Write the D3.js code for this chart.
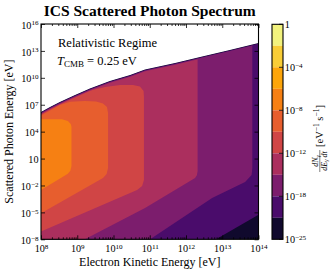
<!DOCTYPE html>
<meta charset="utf-8">
<style>
body { margin: 0; background: #fff; }
text { font-family: "Liberation Serif", "DejaVu Serif", serif; fill: #000; }
.axis line { stroke: #000; stroke-width: 0.8; }
.axis path { display: none; }
</style>
<script src="https://d3js.org/d3.v7.min.js"></script>
<body>
<script>
// everything below is in powers of ten: [log10 electron KE (eV), log10 photon energy (eV)]
// upper kinematic edge, white above
const kinematicEdge = [[8, 6.19], [8.25, 6.75], [8.52, 7.31], [8.94, 8.09], [9.35, 8.81], [9.9, 9.65],
  [10.46, 10.32], [10.87, 10.93], [11.7, 11.65], [12.39, 12.32], [13.21, 13.1], [14, 13.88]];

// filled regions  dN/dE dt >= 10^level
const fill25 = [[7, 17], [15, 17], [15, -10], [7, -10]];
const fill21 = [[7, 17], [15, 17], [15, -5.26], [14, -5.26], [12.83, -8], [12.83, -10], [7, -10]];
const fill18 = [[7, 17], [13.83, 17], [13.83, -0.05], [13.81, -0.83], [13.63, -1.61], [12.72, -3.4], [11.01, -8], [11.01, -10], [7, -10]];
const fill15 = [[7, 17], [12.32, 17], [12.32, -0.42], [12.3, -0.85], [12.25, -1.17], [10.87, -4.51], [9.21, -8], [9.21, -10], [7, -10]];
const fill12 = [[7, 17], [9.35, 17], [9.35, 8.6], [9.77, 8.98], [10.18, 9.2], [10.54, 9.2], [10.73, 9.03], [10.83, 8.53], [10.84, 7.86],
  [10.84, -1.39], [10.79, -2.06], [10.65, -2.5], [8, -7.13], [7, -7.13]];
const fill10 = [[7, 5.0], [8, 5.8], [8.25, 6.36], [8.52, 6.97], [8.8, 7.34], [9.21, 7.42], [9.52, 7.36], [9.71, 7.14], [9.82, 6.75], [9.85, 6.08],
  [9.85, -0.05], [9.81, -0.72], [9.71, -1.17], [8, -5.1], [7, -5.1]];
const fill8 = [[7, 5.38], [8.58, 5.38], [8.74, 5.19], [8.82, 4.85], [8.84, 4.55], [8.84, 0.17], [8.81, -0.35], [8.74, -0.7], [8, -2.5], [7, -2.5]];

// how far (decades) each region sits below the kinematic edge
const regionLevels = [-25, -21, -18, -15, -12, -10, -8];
const regionGaps = [0, 0.06, 0.12, 0.19, 0.28, 0.28, 0.28];
const regionPts = [fill25, fill21, fill18, fill15, fill12, fill10, fill8];

const levelExps = [0, -2, -4, -6, -8, -10, -12, -15, -18, -21, -25];
const cbTickExps = [0, -4, -8, -12, -18, -25];
const xTickExps = [8, 9, 10, 11, 12, 13, 14];
const yTickExps = [16, 13, 10, 7, 4, 1, -2, -5, -8];

const W = 335, H = 273;
const plot = {left: 41, right: 258.5, top: 24, bottom: 239.3};
const cbar = {left: 272, right: 283};

const svg = d3.select('body').append('svg').attr('width', W).attr('height', H);
const defs = svg.append('defs');

const x = d3.scaleLog().domain([1e8, 1e14]).range([plot.left, plot.right]);
const y = d3.scaleLog().domain([1e-8, 1e16]).range([plot.bottom, plot.top]);
const line = d3.line().x(p => x(10 ** p[0])).y(p => y(10 ** p[1]));

const lo = d3.min(levelExps), hi = d3.max(levelExps);
const bandColor = i => d3.interpolateInferno(((levelExps[i] + levelExps[i + 1]) / 2 - lo) / (hi - lo));

defs.append('clipPath').attr('id', 'plotclip')
  .append('rect')
    .attr('x', plot.left).attr('y', plot.top)
    .attr('width', plot.right - plot.left).attr('height', plot.bottom - plot.top);

const underEdge = gap => {
  const e = kinematicEdge.map(([a, b]) => [a, b - gap]);
  return [[7, e[0][1]], ...e, [15, e[e.length - 1][1]], [15, -10], [7, -10]];
};

const field = svg.append('g').attr('clip-path', 'url(#plotclip)');
regionLevels.forEach((lev, k) => {
  defs.append('clipPath').attr('id', 'edge' + k)
    .append('path').attr('d', line(underEdge(regionGaps[k])) + 'Z');
  field.append('g')
    .attr('clip-path', `url(#edge${k})`)
    .append('path')
      .attr('d', line(regionPts[k]) + 'Z')
      .attr('fill', bandColor(levelExps.indexOf(lev) - 1));
});

// tick label helper: 10^e with superscript
function powLabel(sel, e, fs) {
  sel.text('');
  if (e === 0) { sel.append('tspan').text('1'); return; }
  sel.append('tspan').text('10');
  if (e !== 1) {
    sel.append('tspan').attr('dy', '-0.45em').attr('font-size', fs * 0.7)
      .text(e < 0 ? '\u2212' + (-e) : e);
  }
}

const fs = 10.2;
const minor = d3.merge(d3.range(8, 14).map(k => d3.range(2, 10).map(m => m * 10 ** k)));

const xAxis = svg.append('g').attr('class', 'axis')
  .attr('transform', `translate(0,${plot.bottom})`)
  .call(d3.axisBottom(x).tickValues(xTickExps.map(e => 10 ** e)).tickSizeInner(-4).tickSizeOuter(0).tickPadding(5.5));
xAxis.selectAll('.tick text').attr('font-size', fs).each(function(d) { powLabel(d3.select(this), Math.round(Math.log10(d)), fs); });
svg.append('g').attr('class', 'axis')
  .attr('transform', `translate(0,${plot.bottom})`)
  .call(d3.axisBottom(x).tickValues(minor).tickSizeInner(-2).tickSizeOuter(0).tickFormat(''));
svg.append('g').attr('class', 'axis')
  .attr('transform', `translate(0,${plot.top})`)
  .call(d3.axisTop(x).tickValues(xTickExps.map(e => 10 ** e)).tickSizeInner(-4).tickSizeOuter(0).tickFormat(''));
svg.append('g').attr('class', 'axis')
  .attr('transform', `translate(0,${plot.top})`)
  .call(d3.axisTop(x).tickValues(minor).tickSizeInner(-2).tickSizeOuter(0).tickFormat(''));

const yAxis = svg.append('g').attr('class', 'axis')
  .attr('transform', `translate(${plot.left},0)`)
  .call(d3.axisLeft(y).tickValues(yTickExps.map(e => 10 ** e)).tickSizeInner(-4).tickSizeOuter(0).tickPadding(2.5));
yAxis.selectAll('.tick text').attr('font-size', fs).attr('dy', '0.4em')
  .each(function(d) { powLabel(d3.select(this), Math.round(Math.log10(d)), fs); });
svg.append('g').attr('class', 'axis')
  .attr('transform', `translate(${plot.right},0)`)
  .call(d3.axisRight(y).tickValues(yTickExps.map(e => 10 ** e)).tickSizeInner(-4).tickSizeOuter(0).tickFormat(''));

svg.append('rect')
  .attr('x', plot.left).attr('y', plot.top)
  .attr('width', plot.right - plot.left).attr('height', plot.bottom - plot.top)
  .attr('fill', 'none').attr('stroke', '#000').attr('stroke-width', 1.1);

// colorbar, bands evenly spaced by level index
const cb = d3.scalePoint().domain(levelExps).range([plot.top + 0.3, plot.bottom]);
const cbg = svg.append('g');
cbg.selectAll('rect.band')
  .data(d3.range(levelExps.length - 1))
  .join('rect')
    .attr('class', 'band')
    .attr('x', cbar.left).attr('width', cbar.right - cbar.left)
    .attr('y', i => cb(levelExps[i]))
    .attr('height', i => cb(levelExps[i + 1]) - cb(levelExps[i]))
    .attr('fill', i => bandColor(i));
cbg.selectAll('line.cbt')
  .data(cbTickExps)
  .join('line')
    .attr('class', 'cbt')
    .attr('x1', cbar.right).attr('x2', cbar.right - 4)
    .attr('y1', d => cb(d)).attr('y2', d => cb(d))
    .attr('stroke', '#000').attr('stroke-width', 0.8);
cbg.append('rect')
  .attr('x', cbar.left).attr('y', cb(levelExps[0]))
  .attr('width', cbar.right - cbar.left).attr('height', cb(lo) - cb(hi))
  .attr('fill', 'none').attr('stroke', '#000').attr('stroke-width', 1.1);
cbg.selectAll('text.cbl')
  .data(cbTickExps)
  .join('text')
    .attr('class', 'cbl')
    .attr('x', cbar.right + 1.8).attr('y', d => cb(d)).attr('dy', '0.4em')
    .attr('font-size', fs)
    .each(function(d) { powLabel(d3.select(this), d, fs); });

// colorbar label, rotated
const cl = svg.append('g').attr('transform', 'translate(323,135) rotate(-90)');
const fr = cl.append('g').attr('transform', 'translate(-26,0)');
const num = fr.append('text').attr('y', -4.8).attr('text-anchor', 'middle').attr('font-size', 8);
num.append('tspan').attr('font-style', 'italic').text('dN');
num.append('tspan').attr('font-style', 'italic').attr('font-size', 6).attr('dy', 1.5).text('\u03b3');
fr.append('line').attr('x1', -11).attr('x2', 11).attr('y1', -3.2).attr('y2', -3.2).attr('stroke', '#000').attr('stroke-width', 0.5);
const den = fr.append('text').attr('y', 3.6).attr('text-anchor', 'middle').attr('font-size', 8);
den.append('tspan').attr('font-style', 'italic').text('dE');
den.append('tspan').attr('font-style', 'italic').attr('font-size', 6).attr('dy', 1.5).text('\u03b3');
den.append('tspan').attr('font-style', 'italic').attr('dy', -1.5).text(' dt');
const unit = cl.append('text').attr('x', -12).attr('y', 0).attr('font-size', 10.5);
unit.append('tspan').text('[eV');
unit.append('tspan').attr('font-size', 7.5).attr('dy', -4).text('\u22121');
unit.append('tspan').attr('dy', 4).text(' s');
unit.append('tspan').attr('font-size', 7.5).attr('dy', -4).text('\u22121');
unit.append('tspan').attr('dy', 4).text(']');

// titles and labels
svg.append('text').attr('x', (plot.left + plot.right) / 2).attr('y', 15.5)
  .attr('text-anchor', 'middle').attr('font-size', 15.5).attr('font-weight', 'bold')
  .text('ICS Scattered Photon Spectrum');
svg.append('text').attr('x', (plot.left + plot.right) / 2).attr('y', 266)
  .attr('text-anchor', 'middle').attr('font-size', 12)
  .text('Electron Kinetic Energy [eV]');
svg.append('text').attr('transform', `translate(12.5,${(plot.top + plot.bottom) / 2}) rotate(-90)`)
  .attr('text-anchor', 'middle').attr('font-size', 12)
  .text('Scattered Photon Energy [eV]');

svg.append('text').attr('x', 58).attr('y', 46.5).attr('font-size', 12.5).text('Relativistic Regime');
const tc = svg.append('text').attr('x', 57).attr('y', 64.5).attr('font-size', 12.5);
tc.append('tspan').attr('font-style', 'italic').text('T');
tc.append('tspan').attr('font-size', 9).attr('dy', 2.5).text('CMB');
tc.append('tspan').attr('dy', -2.5).text(' = 0.25 eV');
</script>
</body>
